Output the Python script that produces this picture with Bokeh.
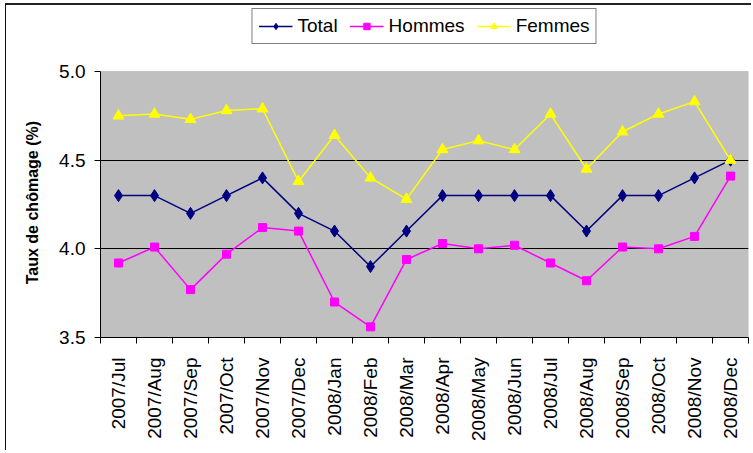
import math
from bokeh.plotting import figure
from bokeh.models import (ColumnDataSource, FixedTicker, Legend, LegendItem,
                          NumeralTickFormatter, Range1d, BoxAnnotation)
from bokeh.embed import file_html
from bokeh.resources import INLINE

months = ["2007/Jul", "2007/Aug", "2007/Sep", "2007/Oct", "2007/Nov", "2007/Dec",
          "2008/Jan", "2008/Feb", "2008/Mar", "2008/Apr", "2008/May", "2008/Jun",
          "2008/Jul", "2008/Aug", "2008/Sep", "2008/Oct", "2008/Nov", "2008/Dec"]
total = [4.3, 4.3, 4.2, 4.3, 4.4, 4.2, 4.1, 3.9, 4.1, 4.3, 4.3, 4.3, 4.3, 4.1, 4.3, 4.3, 4.4, 4.5]
hommes = [3.92, 4.01, 3.77, 3.97, 4.12, 4.10, 3.70, 3.56, 3.94, 4.03, 4.00, 4.02, 3.92, 3.82, 4.01, 4.00, 4.07, 4.41]
femmes = [4.75, 4.76, 4.73, 4.78, 4.79, 4.38, 4.64, 4.40, 4.28, 4.56, 4.61, 4.56, 4.76, 4.45, 4.66, 4.76, 4.83, 4.50]
y_ticks = [3.5, 4.0, 4.5, 5.0]

xs = list(range(len(months)))
src = ColumnDataSource(dict(x=xs, total=total, hommes=hommes, femmes=femmes))

FONT = "Liberation Sans"
y_lo, y_hi = y_ticks[0], y_ticks[-1]

p = figure(width=746, height=447, output_backend="svg", toolbar_location=None,
           x_range=Range1d(-0.5, len(months) - 0.5), y_range=Range1d(y_lo, 5.372),
           min_border_left=94, min_border_right=4, min_border_top=0, min_border_bottom=115,
           border_fill_color="white", background_fill_color="white")
p.outline_line_color = None
# outer chart border (left and top edges visible in the reference)
p.styles = {"border-left": "1px solid #111111", "border-top": "2px solid #222222",
            "margin-left": "5px", "margin-top": "3px"}

# grey plot area (3.5 .. 5.0)
plot_area = BoxAnnotation(bottom=y_lo, top=y_hi, fill_color="#C0C0C0", fill_alpha=1.0,
                          line_color="#808080", line_width=1, level="image")
p.add_layout(plot_area)

# lines and markers
l1 = p.line("x", "total", source=src, line_color="#000080", line_width=1.5)
s1 = p.scatter("x", "total", source=src, marker="diamond", size=12,
               fill_color="#000080", line_color="#000080")
l2 = p.line("x", "hommes", source=src, line_color="#FF00FF", line_width=1.5)
s2 = p.scatter("x", "hommes", source=src, marker="square", size=8,
               fill_color="#FF00FF", line_color="#FF00FF")
l3 = p.line("x", "femmes", source=src, line_color="#FFFF00", line_width=1.5)
s3 = p.scatter("x", "femmes", source=src, marker="triangle", size=11,
               fill_color="#FFFF00", line_color="#FFFF00")

# x axis
p.xaxis.ticker = FixedTicker(ticks=xs, minor_ticks=[i - 0.5 for i in range(len(months) + 1)])
p.xaxis.major_label_overrides = {i: m for i, m in enumerate(months)}
p.xaxis.major_label_orientation = math.pi / 2
p.xaxis.major_tick_out = 0
p.xaxis.major_tick_in = 0
p.xaxis.minor_tick_out = 6
p.xaxis.minor_tick_in = 0
p.xaxis.minor_tick_line_color = "black"
p.xaxis.axis_line_color = "black"
p.xaxis.major_label_text_font = FONT
p.xaxis.major_label_text_font_size = "19px"
p.xaxis.major_label_text_color = "black"
p.xaxis.major_label_standoff = 14

# y axis
p.yaxis.ticker = FixedTicker(ticks=y_ticks)
p.yaxis.bounds = (y_lo, y_hi)
p.yaxis.formatter = NumeralTickFormatter(format="0.0")
p.yaxis.major_tick_out = 6
p.yaxis.major_tick_in = 0
p.yaxis.minor_tick_line_color = None
p.yaxis.axis_line_color = "black"
p.yaxis.major_label_text_font = FONT
p.yaxis.major_label_text_font_size = "19px"
p.yaxis.major_label_text_color = "black"
p.yaxis.major_label_standoff = 9
# trailing no-break spaces keep the label centred on the grey plot area
p.yaxis.axis_label = "Taux de chômage (%)" + "\u00a0" * 14
p.yaxis.axis_label_text_font = FONT
p.yaxis.axis_label_text_font_size = "16px"
p.yaxis.axis_label_text_font_style = "bold"
p.yaxis.axis_label_text_color = "black"
p.yaxis.axis_label_standoff = 15

p.xgrid.grid_line_color = None
p.ygrid.grid_line_color = "black"
p.ygrid.grid_line_width = 1
p.ygrid.ticker = FixedTicker(ticks=y_ticks[1:-1])

legend = Legend(items=[LegendItem(label="Total", renderers=[l1, s1]),
                       LegendItem(label="Hommes", renderers=[l2, s2]),
                       LegendItem(label="Femmes", renderers=[l3, s3])],
                orientation="horizontal", location="top_center",
                label_text_font=FONT, label_text_font_size="19px", label_text_color="black",
                glyph_width=34, glyph_height=16, label_standoff=5, spacing=12,
                padding=6, margin=3, border_line_color="black", border_line_width=1,
                background_fill_color="white", background_fill_alpha=1.0)
p.add_layout(legend, "center")

open("out.html", "w").write(file_html(p, INLINE))
